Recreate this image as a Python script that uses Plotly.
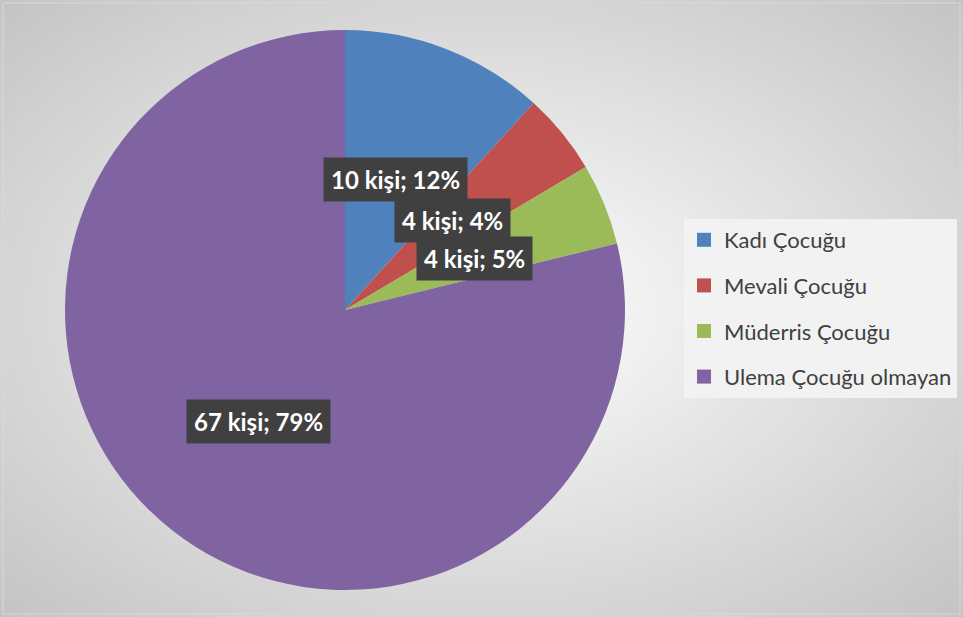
import base64, struct, zlib
import plotly.graph_objects as go

# ---- data ----
categories = ["Kadı Çocuğu", "Mevali Çocuğu", "Müderris Çocuğu", "Ulema Çocuğu olmayan"]
counts = [10, 4, 4, 67]
percent_labels = ["12%", "4%", "5%", "79%"]
colors = ["#4f81bd", "#c0504d", "#9bbb59", "#8064a2"]

W, H = 963, 617

# ---- background radial gradient image (grayscale PNG) ----
def gradient_png(w, h):
    rows = []
    for j in range(h):
        row = bytearray([0])
        for i in range(w):
            dx = (i + 0.5 - w / 2) / (w / 2)
            dy = (j + 0.5 - h / 2) / (h / 2)
            t = min(1.0, ((dx * dx + dy * dy) ** 0.5) / (2 ** 0.5))
            v = int(round(255 - (255 - 196) * t))
            row.append(v)
        rows.append(bytes(row))
    raw = b"".join(rows)
    def chunk(tag, data):
        c = struct.pack(">I", len(data)) + tag + data
        return c + struct.pack(">I", zlib.crc32(tag + data) & 0xffffffff)
    png = b"\x89PNG\r\n\x1a\n"
    png += chunk(b"IHDR", struct.pack(">IIBBBBB", w, h, 8, 0, 0, 0, 0))
    png += chunk(b"IDAT", zlib.compress(raw, 9))
    png += chunk(b"IEND", b"")
    return "data:image/png;base64," + base64.b64encode(png).decode()

bg = gradient_png(193, 124)

fig = go.Figure()

fig.add_trace(go.Pie(
    labels=categories,
    values=counts,
    sort=False,
    direction="clockwise",
    rotation=0,
    marker=dict(colors=colors, line=dict(width=0)),
    textinfo="none",
    hoverinfo="label+value+percent",
    showlegend=False,
    domain=dict(x=[65 / W, 625 / W], y=[1 - 590 / H, 1 - 30 / H]),
))

# legend entries (dummy traces so that spacing can be controlled)
for i, (cat, col) in enumerate(zip(categories, colors)):
    fig.add_trace(go.Scatter(
        x=[None], y=[None], mode="markers", name=cat,
        marker=dict(symbol="square", size=14, color=col),
        legendgroup=f"g{i}", showlegend=True,
    ))

# data labels
label_pos = [(395, 180), (452, 220), (474, 258), (258, 421)]
annotations = []
for (px, py), c, p in zip(label_pos, counts, percent_labels):
    annotations.append(dict(
        x=px / W, y=1 - py / H, xref="paper", yref="paper",
        text=f"<b>{c} kişi; {p}</b>", showarrow=False,
        font=dict(family="Lato", size=24, color="white"),
        bgcolor="#404040", borderpad=7,
        xanchor="center", yanchor="middle",
    ))

fig.update_layout(
    width=W, height=H,
    margin=dict(l=0, r=0, t=0, b=0),
    paper_bgcolor="#e6e6e6",
    plot_bgcolor="rgba(0,0,0,0)",
    xaxis=dict(visible=False),
    yaxis=dict(visible=False),
    images=[dict(source=bg, xref="paper", yref="paper", x=0, y=1,
                 sizex=1, sizey=1, sizing="stretch", layer="below",
                 xanchor="left", yanchor="top")],
    legend=dict(
        x=684 / W, y=1 - 219 / H, xanchor="left", yanchor="top",
        bgcolor="#f2f2f2", borderwidth=0,
        font=dict(family="Lato", size=22, color="#404040"),
        tracegroupgap=14, itemclick=False,
    ),
    annotations=annotations,
    shapes=[dict(type="rect", xref="paper", yref="paper",
                 x0=3 / W, x1=960 / W, y0=3 / H, y1=1 - 3 / H,
                 line=dict(color="#d9d9d9", width=1), layer="below")],
)

fig.write_html("out.html", config={"displayModeBar": False},
               post_script="document.body.style.margin='0';document.body.style.overflow='hidden';")
